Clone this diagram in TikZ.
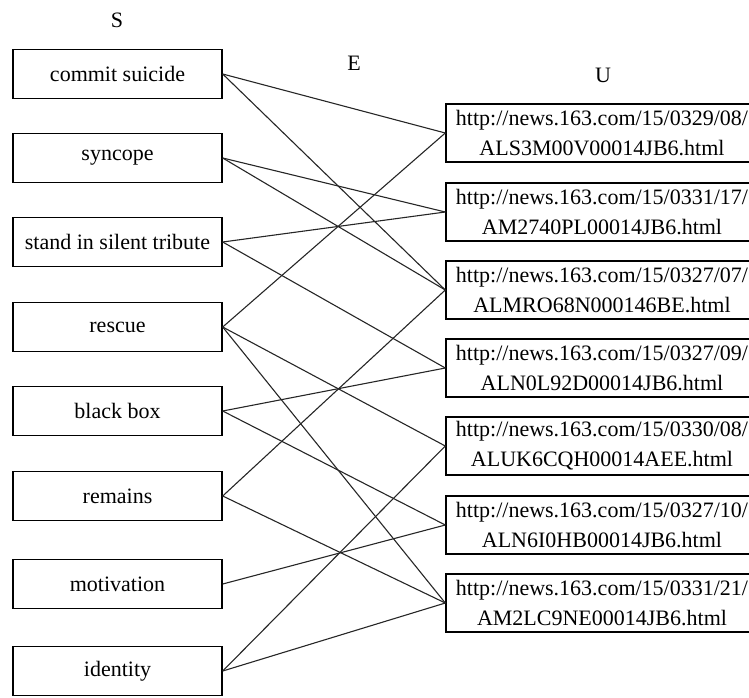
\documentclass[tikz,border=0pt]{standalone}
\usepackage{fontspec}
\setmainfont{Liberation Serif}
\begin{document}
\begin{tikzpicture}[x=0.5pt, y=-0.5pt,
                    term/.style={rectangle, draw, line width=0.7pt, minimum width=104.5pt, minimum height=24.5pt, inner sep=0pt},
                    url/.style={rectangle, draw, line width=0.7pt, minimum width=156pt, minimum height=29pt, inner sep=0pt, align=center},
                    link/.style={draw=black!85, line width=0.55pt}]
\fontsize{11}{15}\selectfont
\useasboundingbox (0,0) rectangle (749,697);
\clip (0,0) rectangle (749,697);

\node (S) at (117,20) {S};
\node (E) at (354,63) {E};
\node (U) at (603,75) {U};

\node[term] (s1) at (117.5,74) {commit suicide};
\node[term] (s2) at (117.5,158) {syncope};
\node[term] (s3) at (117.5,242) {stand in silent tribute};
\node[term] (s4) at (117.5,327) {rescue};
\node[term] (s5) at (117.5,411) {black box};
\node[term] (s6) at (117.5,496) {remains};
\node[term] (s7) at (117.5,584) {motivation};
\node[term] (s8) at (117.5,671) {identity};

\node[url] (u1) at (602,133) {http://news.163.com/15/0329/08/\\ALS3M00V00014JB6.html};
\node[url] (u2) at (602,212) {http://news.163.com/15/0331/17/\\AM2740PL00014JB6.html};
\node[url] (u3) at (602,290) {http://news.163.com/15/0327/07/\\ALMRO68N000146BE.html};
\node[url] (u4) at (602,368) {http://news.163.com/15/0327/09/\\ALN0L92D00014JB6.html};
\node[url] (u5) at (602,446) {http://news.163.com/15/0330/08/\\ALUK6CQH00014AEE.html};
\node[url] (u6) at (602,525) {http://news.163.com/15/0327/10/\\ALN6I0HB00014JB6.html};
\node[url] (u7) at (602,603) {http://news.163.com/15/0331/21/\\AM2LC9NE00014JB6.html};

\foreach \s/\u in {s1/u1, s1/u3, s2/u2, s2/u3, s3/u2, s3/u4, s4/u1, s4/u5, s4/u7,
                   s5/u4, s5/u6, s6/u3, s6/u7, s7/u6, s8/u5, s8/u7}
    \draw[link] (\s.east) -- (\u.west);
\end{tikzpicture}
\end{document}
